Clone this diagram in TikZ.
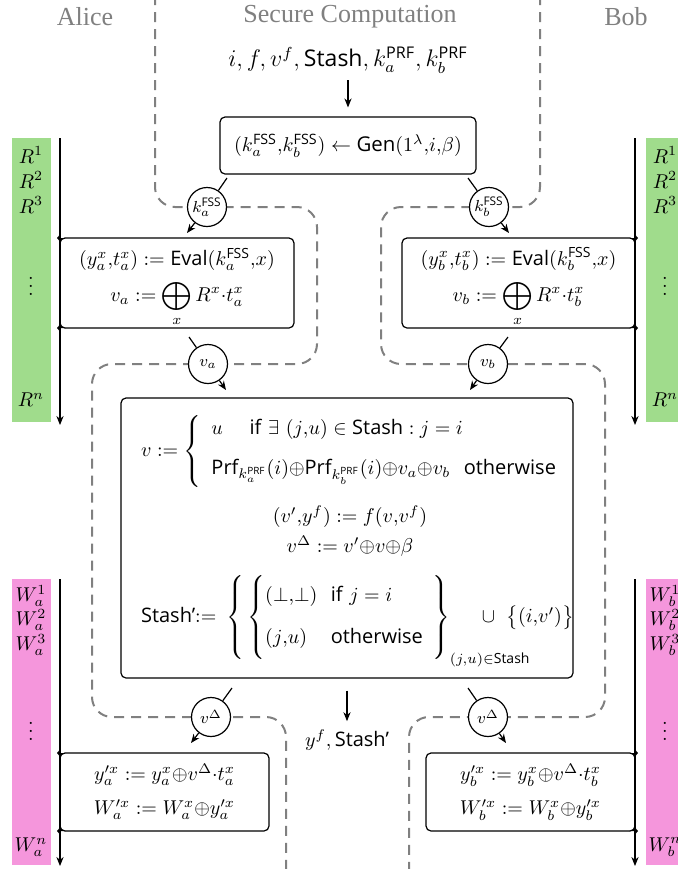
\documentclass[tikz,border=0pt]{standalone}
\usepackage{amsmath}
\usepackage{mathtools}
\usepackage{fontspec}
\setsansfont{Open Sans}
\newfontfamily\titlefont{Liberation Serif}
\usetikzlibrary{arrows.meta}
\definecolor{rgreen}{RGB}{160,220,140}
\definecolor{wpink}{RGB}{245,150,220}
\definecolor{dgray}{RGB}{128,128,128}
\newcommand{\sfx}[1]{\textsf{#1}}
\newcommand{\filletL}[3]{% x y dir(1 = box below, -1 = box above), timeline on the left
  \fill (#1,#2) -- (#1+6,#2) .. controls (#1+2.5,#2) and (#1,#2+2.5*#3) .. (#1,#2+6*#3) -- cycle;
  \fill (#1-3,#2) -- (#1,#2-3.5) -- (#1,#2+3.5) -- cycle;}
\newcommand{\filletR}[3]{%
  \fill (#1,#2) -- (#1-6,#2) .. controls (#1-2.5,#2) and (#1,#2+2.5*#3) .. (#1,#2+6*#3) -- cycle;
  \fill (#1+3,#2) -- (#1,#2-3.5) -- (#1,#2+3.5) -- cycle;}
\begin{document}
\begin{tikzpicture}[x=0.5pt,y=-0.5pt,
  every node/.style={font=\fontsize{10}{12}\selectfont},
  box/.style={draw, rounded corners=2.5pt, line width=0.6pt, inner sep=0pt},
  circ/.style={draw, circle, fill=white, line width=0.6pt, minimum size=19.5pt, inner sep=0pt, font=\fontsize{8.5}{10}\selectfont},
  conn/.style={line width=0.6pt},
  arr/.style={line width=0.6pt, -{Stealth[length=4.5pt,width=3.6pt]}},
  sep/.style={draw=dgray, line width=1pt, dash pattern=on 5pt off 3.5pt, rounded corners=10pt},
  title/.style={text=dgray, font=\titlefont\fontsize{13}{15}\selectfont},
  lab/.style={inner sep=0pt}
]
\useasboundingbox (0,0) rectangle (678,869);

% bands
\fill[rgreen] (12,138) rectangle (51,422);
\fill[rgreen] (646,138) rectangle (678,422);
\fill[wpink] (12,579) rectangle (51,865);
\fill[wpink] (646,579) rectangle (678,865);

% separators
\draw[sep] (155,-5) -- (155,207) -- (317,207) -- (317,364) -- (92,364) -- (92,717) -- (286,717) -- (286,880);
\draw[sep] (540,-5) -- (540,207) -- (381,207) -- (381,364) -- (605,364) -- (605,717) -- (409,717) -- (409,880);

% titles
\node[title] (alice) at (85,17) {Alice};
\node[title] (sc) at (350,17) {Secure Computation};
\node[title] (bob) at (626,17) {Bob};

% input and Gen
\node[font=\fontsize{11.5}{13}\selectfont] (input) at (348,60) {$i, f, v^f, \sfx{Stash}, k_a^{\sfx{PRF}}, k_b^{\sfx{PRF}}$};
\node[box, minimum width=128pt, minimum height=28.5pt, font=\fontsize{10.2}{12}\selectfont] (gen) at (348,145.5)
  {$(k_a^{\sfx{FSS}}{,}k_b^{\sfx{FSS}}) \leftarrow \sfx{Gen}(1^\lambda{,}i{,}\beta)$};
\draw[arr, shorten >=4.5pt] (input) -- (gen);

% timelines
\coordinate (ta1) at (60,138); \coordinate (ta2) at (60,425);
\coordinate (tb1) at (635,138); \coordinate (tb2) at (635,425);
\coordinate (tc1) at (60,579); \coordinate (tc2) at (60,866);
\coordinate (td1) at (635,579); \coordinate (td2) at (635,866);
\draw[arr] (ta1) -- (ta2);
\draw[arr] (tb1) -- (tb2);
\draw[arr] (tc1) -- (tc2);
\draw[arr] (td1) -- (td2);

% band labels
\node[lab] (r1) at (31,155) {$R^1$};
\node[lab] (r2) at (31,180) {$R^2$};
\node[lab] (r3) at (31,205) {$R^3$};
\node[lab] (rd) at (31,280) {$\vdots$};
\node[lab] (rn) at (31,400) {$R^n$};
\node[lab] (rb1) at (665,155) {$R^1$};
\node[lab] (rb2) at (665,180) {$R^2$};
\node[lab] (rb3) at (665,205) {$R^3$};
\node[lab] (rbd) at (665,280) {$\vdots$};
\node[lab] (rbn) at (665,400) {$R^n$};
\node[lab] (w1) at (31,596) {$W_a^1$};
\node[lab] (w2) at (31,620) {$W_a^2$};
\node[lab] (w3) at (31,645) {$W_a^3$};
\node[lab] (wd) at (31,725) {$\vdots$};
\node[lab] (wn) at (31,847) {$W_a^n$};
\node[lab] (wb1) at (665,596) {$W_b^1$};
\node[lab] (wb2) at (665,620) {$W_b^2$};
\node[lab] (wb3) at (665,645) {$W_b^3$};
\node[lab] (wbd) at (665,725) {$\vdots$};
\node[lab] (wbn) at (665,847) {$W_b^n$};

% Eval boxes
\node[box, minimum width=117pt, minimum height=45pt, align=center] (eva) at (177,283)
  {\rule{0pt}{13pt}$(y^x_a{,}t^x_a) := \sfx{Eval}(k_a^{\sfx{FSS}}{,}x)$\\[4pt] $v_a := \displaystyle\bigoplus_x R^x{\cdot}t^x_a$};
\node[box, minimum width=116.5pt, minimum height=45pt, align=center] (evb) at (518.5,283)
  {\rule{0pt}{13pt}$(y^x_b{,}t^x_b) := \sfx{Eval}(k_b^{\sfx{FSS}}{,}x)$\\[4pt] $v_b := \displaystyle\bigoplus_x R^x{\cdot}t^x_b$};
\filletL{60}{238}{1} \filletL{60}{328}{-1}
\filletR{635}{238}{1} \filletR{635}{328}{-1}

% key circles
\node[circ] (ka) at (207,207) {$k_a^{\sfx{FSS}}$};
\node[circ] (kb) at (489,207) {$k_b^{\sfx{FSS}}$};
\coordinate (kas) at (227,178); \coordinate (kae) at (187,233);
\coordinate (kbs) at (468,178); \coordinate (kbe) at (509,233);
\draw[conn] (kas) -- (ka); \draw[arr] (ka) -- (kae);
\draw[conn] (kbs) -- (kb); \draw[arr] (kb) -- (kbe);

% v circles
\node[circ] (va) at (208,364) {$v_a$};
\node[circ] (vb) at (488,364) {$v_b$};
\coordinate (vas) at (189,337); \coordinate (vae) at (226,390);
\coordinate (vbs) at (508,337); \coordinate (vbe) at (470,390);
\draw[conn] (vas) -- (va); \draw[arr] (va) -- (vae);
\draw[conn] (vbs) -- (vb); \draw[arr] (vb) -- (vbe);

% central computation
\node[box, minimum width=226pt, minimum height=140pt] (comp) at (347,538) {};
\node[anchor=west] (vdef) at (134,451) {$v := \left\{\rule[-17pt]{0pt}{39pt}\begin{array}{@{\ \,}l@{}}
  u\quad\ \sfx{if}\ \exists\ (j{,}u)\in\sfx{Stash} : j=i\\[8pt]
  \sfx{Prf}_{k_a^{\sfx{PRF}}}(i){\oplus}\sfx{Prf}_{k_b^{\sfx{PRF}}}(i){\oplus}v_a{\oplus}v_b\ \ \sfx{otherwise}
  \end{array}\right.$};
\node (vp) at (350,517) {$(v'{,}y^f) := f(v{,}v^f)$};
\node (vd) at (350,546) {$v^\Delta := v'{\oplus}v{\oplus}\beta$};
\node[anchor=west] (st) at (134,620) {$\sfx{Stash'}{:=}\ \left\{\rule[-20pt]{0pt}{45pt}\left\{\rule[-18pt]{0pt}{41pt}\begin{array}{@{}l@{\ \ }l@{}}
  (\bot{,}\bot) & \sfx{if}\ j=i\\[9pt]
  (j{,}u) & \sfx{otherwise}
  \end{array}\right.\ \right\}_{\mathrlap{(j,u)\in\sfx{Stash}}}\quad\ \cup\ \big\{(i{,}v')\big\}$};

% output
\node[inner sep=0pt] (out) at (347,740) {$y^f, \sfx{Stash'}$};
\draw[arr, shorten <=6pt, shorten >=4pt] (comp) -- (out);

% v delta circles
\node[circ] (vda) at (211,717) {$v^\Delta$};
\node[circ] (vdb) at (488,717) {$v^\Delta$};
\coordinate (vdas) at (232,688); \coordinate (vdae) at (191,743);
\coordinate (vdbs) at (468,688); \coordinate (vdbe) at (506,743);
\draw[conn] (vdas) -- (vda); \draw[arr] (vda) -- (vdae);
\draw[conn] (vdbs) -- (vdb); \draw[arr] (vdb) -- (vdbe);

% update boxes
\node[box, minimum width=104.5pt, minimum height=39pt, align=center] (upa) at (164.5,792)
  {$y'^x_a := y^x_a{\oplus}v^\Delta{\cdot}t^x_a$\\[5pt] $W'^x_a := W^x_a{\oplus}y'^x_a$};
\node[box, minimum width=104.5pt, minimum height=39pt, align=center] (upb) at (530.5,792)
  {$y'^x_b := y^x_b{\oplus}v^\Delta{\cdot}t^x_b$\\[5pt] $W'^x_b := W^x_b{\oplus}y'^x_b$};
\filletL{60}{753}{1} \filletL{60}{831}{-1}
\filletR{635}{753}{1} \filletR{635}{831}{-1}
\end{tikzpicture}
\end{document}
